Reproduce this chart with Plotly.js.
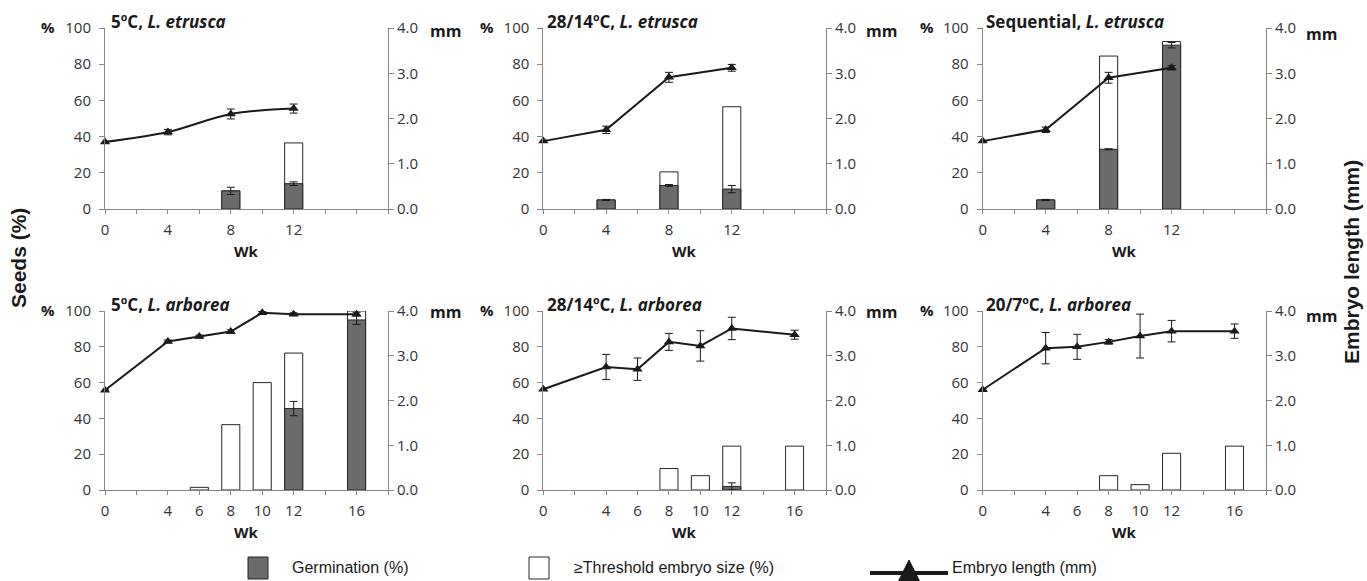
<!DOCTYPE html>
<html>
<head>
<meta charset="utf-8">
<script src="https://cdn.plot.ly/plotly-3.0.1.min.js"></script>
<style>html,body{margin:0;padding:0;background:#fff;}#chart{width:1367px;height:581px;}</style>
</head>
<body>
<div id="chart"></div>
<script>
// ---------- DATA ----------
const panelTitles = ["5ºC, <i>L. etrusca</i>", "28/14ºC, <i>L. etrusca</i>", "Sequential, <i>L. etrusca</i>",
                     "5ºC, <i>L. arborea</i>", "28/14ºC, <i>L. arborea</i>", "20/7ºC, <i>L. arborea</i>"];
const weeksTop = [0, 4, 8, 12];
const weeksBottom = [0, 4, 6, 8, 10, 12, 16];
const tickWeeks = [0, 2, 4, 6, 8, 10, 12, 14, 16, 18];

// Embryo length (mm) and its error
const len1 = [1.48, 1.70, 2.10, 2.22];            const lenErr1 = [0.02, 0.06, 0.11, 0.10];
const len2 = [1.50, 1.75, 2.91, 3.12];            const lenErr2 = [0.02, 0.08, 0.11, 0.075];
const len3 = [1.50, 1.75, 2.90, 3.12];            const lenErr3 = [0.02, 0.06, 0.12, 0.05];
const len4 = [2.23, 3.32, 3.43, 3.54, 3.96, 3.93, 3.93]; const lenErr4 = [0.02, 0.03, 0.03, 0.04, 0.03, 0.03, 0.04];
const len5 = [2.25, 2.75, 2.70, 3.31, 3.22, 3.61, 3.47]; const lenErr5 = [0.02, 0.28, 0.25, 0.19, 0.34, 0.25, 0.10];
const len6 = [2.24, 3.17, 3.20, 3.31, 3.44, 3.55, 3.55]; const lenErr6 = [0.02, 0.35, 0.28, 0.05, 0.49, 0.24, 0.16];

// Bars: weeks, germination (%), germination error, >=threshold embryo size (%)
const barWk1 = [8, 12];         const germ1 = [10, 14];          const germErr1 = [2, 1];          const thr1 = [10, 36.5];
const barWk2 = [4, 8, 12];      const germ2 = [5, 13, 11];       const germErr2 = [0.3, 0.5, 2];   const thr2 = [5, 20.5, 56.5];
const barWk3 = [4, 8, 12];      const germ3 = [5, 33, 90.5];     const germErr3 = [0.3, 0.3, 1.5]; const thr3 = [5, 84.5, 92.5];
const barWk4 = [6, 8, 10, 12, 16]; const germ4 = [null, null, null, 45.5, 95]; const germErr4 = [null, null, null, 4, 2.5]; const thr4 = [1.5, 36.5, 60, 76.5, 100];
const barWk5 = [8, 10, 12, 16]; const germ5 = [null, null, 2, null]; const germErr5 = [null, null, 2, null]; const thr5 = [12, 8, 24.5, 24.5];
const barWk6 = [8, 10, 12, 16]; const germ6 = [null, null, null, null]; const germErr6 = [null, null, null, null]; const thr6 = [8, 3, 20.5, 24.5];

const legendLabels = ["Germination (%)", "≥Threshold embryo size (%)", "Embryo length (mm)"];

// ---------- LAYOUT HELPERS ----------
const W = 1367, H = 581;
const px = v => v / W;
const py = v => 1 - v / H;
const xDomPx = [[105, 388], [543.3, 826], [982.7, 1266]];
const yDomPx = [[209, 28], [490, 311]];

const DARK = '#1a1a1a', AXC = '#868686', GERM = '#6b6b6b', OUT = '#262626';
const OS = 'Open Sans, DejaVu Sans, sans-serif';
const tickFont = {family: OS, size: 15, color: '#333'};

const panels = [
  {w: weeksTop, len: len1, le: lenErr1, bw: barWk1, g: germ1, ge: germErr1, t: thr1, smooth: true},
  {w: weeksTop, len: len2, le: lenErr2, bw: barWk2, g: germ2, ge: germErr2, t: thr2},
  {w: weeksTop, len: len3, le: lenErr3, bw: barWk3, g: germ3, ge: germErr3, t: thr3},
  {w: weeksBottom, len: len4, le: lenErr4, bw: barWk4, g: germ4, ge: germErr4, t: thr4},
  {w: weeksBottom, len: len5, le: lenErr5, bw: barWk5, g: germ5, ge: germErr5, t: thr5},
  {w: weeksBottom, len: len6, le: lenErr6, bw: barWk6, g: germ6, ge: germErr6, t: thr6}
];

const traces = [];
const layout = {
  width: W, height: H, margin: {l: 0, r: 0, t: 0, b: 0},
  paper_bgcolor: '#fff', plot_bgcolor: 'rgba(0,0,0,0)',
  showlegend: false, barmode: 'overlay',
  annotations: [], shapes: []
};

panels.forEach((p, i) => {
  const n = i + 1;
  const xs = n === 1 ? '' : String(n);
  const ys = n === 1 ? '' : String(n);
  const yr = String(n + 6);
  const col = i % 3, row = Math.floor(i / 3);
  const xd = [px(xDomPx[col][0]), px(xDomPx[col][1])];
  const yd = [py(yDomPx[row][0]), py(yDomPx[row][1])];

  traces.push({type: 'bar', x: p.bw, y: p.t, width: 1.15, xaxis: 'x' + xs, yaxis: 'y' + ys,
    marker: {color: '#ffffff', line: {color: OUT, width: 1}}, hoverinfo: 'skip'});
  traces.push({type: 'bar', x: p.bw, y: p.g, width: 1.15, xaxis: 'x' + xs, yaxis: 'y' + ys,
    marker: {color: GERM, line: {color: OUT, width: 1}},
    error_y: {type: 'data', array: p.ge, visible: true, color: DARK, thickness: 1, width: 4}, hoverinfo: 'skip'});
  traces.push({type: 'scatter', mode: 'lines+markers', x: p.w, y: p.len, xaxis: 'x' + xs, yaxis: 'y' + yr,
    line: {color: DARK, width: 2, shape: p.smooth ? 'spline' : 'linear', smoothing: 1},
    marker: {symbol: 'triangle-up', size: 9, color: DARK},
    error_y: {type: 'data', array: p.le, visible: true, color: DARK, thickness: 1, width: 4}, cliponaxis: false});

  const labelSet = new Set(p.w);
  layout['xaxis' + xs] = {
    domain: xd, anchor: 'y' + ys, range: [0, 18], tickmode: 'array',
    tickvals: tickWeeks, ticktext: tickWeeks.map(t => labelSet.has(t) ? String(t) : ''),
    showline: true, linecolor: AXC, linewidth: 1, ticks: 'outside', ticklen: 4, tickcolor: AXC,
    showgrid: false, zeroline: false, tickfont: tickFont, ticklabelstandoff: 3, fixedrange: true
  };
  layout['yaxis' + ys] = {
    domain: yd, anchor: 'x' + xs, range: [0, 100], dtick: 20, tick0: 0,
    showline: true, linecolor: AXC, linewidth: 1, ticks: 'outside', ticklen: 5, tickcolor: AXC,
    showgrid: false, zeroline: false, tickfont: tickFont, ticklabelstandoff: 5, fixedrange: true
  };
  layout['yaxis' + yr] = {
    overlaying: 'y' + ys, anchor: 'x' + xs, side: 'right', range: [0, 4], dtick: 1, tick0: 0,
    tickformat: '.1f', showline: true, linecolor: AXC, linewidth: 1, ticks: 'outside', ticklen: 5,
    tickcolor: AXC, showgrid: false, zeroline: false, tickfont: tickFont, fixedrange: true
  };

  // panel title
  const titleX = [109, 545, 984][col];
  const titleY = [22, 304][row];
  layout.annotations.push({xref: 'paper', yref: 'paper', x: px(titleX), y: py(titleY), xanchor: 'left', yanchor: 'middle',
    text: '<b>' + panelTitles[i] + '</b>', showarrow: false,
    font: {family: OS, size: 17, color: DARK}});
  // Wk
  layout.annotations.push({xref: 'paper', yref: 'paper', x: (xd[0] + xd[1]) / 2, y: py([251, 532][row]),
    xanchor: 'center', yanchor: 'middle', text: '<b>Wk</b>', showarrow: false,
    font: {family: OS, size: 15, color: DARK}});
  // % label
  layout.annotations.push({xref: 'paper', yref: 'paper', x: px([48, 487, 927][col]), y: py([27, 310][row]),
    xanchor: 'center', yanchor: 'middle', text: '<b>%</b>', showarrow: false,
    font: {family: OS, size: 15, color: DARK}});
  // mm label
  layout.annotations.push({xref: 'paper', yref: 'paper', x: px([446, 881, 1321][col]), y: py(col === 2 ? [34, 316][row] : [31, 312][row]),
    xanchor: 'center', yanchor: 'middle', text: '<b>mm</b>', showarrow: false,
    font: {family: OS, size: 16, color: DARK}});
});

// Global axis titles
layout.annotations.push({xref: 'paper', yref: 'paper', x: px(18), y: py(258), textangle: -90,
  text: '<b>Seeds (%)</b>', showarrow: false, xanchor: 'center', yanchor: 'middle',
  font: {family: 'Liberation Sans, Arial, sans-serif', size: 21, color: DARK}});
layout.annotations.push({xref: 'paper', yref: 'paper', x: px(1351), y: py(262), textangle: -90,
  text: '<b>Embryo length (mm)</b>', showarrow: false, xanchor: 'center', yanchor: 'middle',
  font: {family: 'Liberation Sans, Arial, sans-serif', size: 21, color: DARK}});

// Custom legend
const legFont = {family: 'Liberation Sans, Arial, sans-serif', size: 16, color: DARK};
layout.shapes.push({type: 'rect', xref: 'paper', yref: 'paper', x0: px(248), x1: px(268), y0: py(579), y1: py(557),
  fillcolor: GERM, line: {color: OUT, width: 1}});
layout.shapes.push({type: 'rect', xref: 'paper', yref: 'paper', x0: px(529), x1: px(549), y0: py(579), y1: py(557),
  fillcolor: '#fff', line: {color: OUT, width: 1}});
layout.shapes.push({type: 'line', xref: 'paper', yref: 'paper', x0: px(870), x1: px(948), y0: py(573), y1: py(573),
  line: {color: DARK, width: 4}});
layout.shapes.push({type: 'path', xref: 'paper', yref: 'paper',
  path: 'M ' + px(898) + ' ' + py(582) + ' L ' + px(920) + ' ' + py(582) + ' L ' + px(909) + ' ' + py(560) + ' Z',
  fillcolor: DARK, line: {color: DARK, width: 1}});
[[290, legendLabels[0]], [572, legendLabels[1]], [950, legendLabels[2]]].forEach(([x, t]) => {
  layout.annotations.push({xref: 'paper', yref: 'paper', x: px(x), y: py(567), xanchor: 'left', yanchor: 'middle',
    text: t, showarrow: false, font: legFont});
});

Plotly.newPlot('chart', traces, layout, {staticPlot: true, displayModeBar: false});
</script>
</body>
</html>
